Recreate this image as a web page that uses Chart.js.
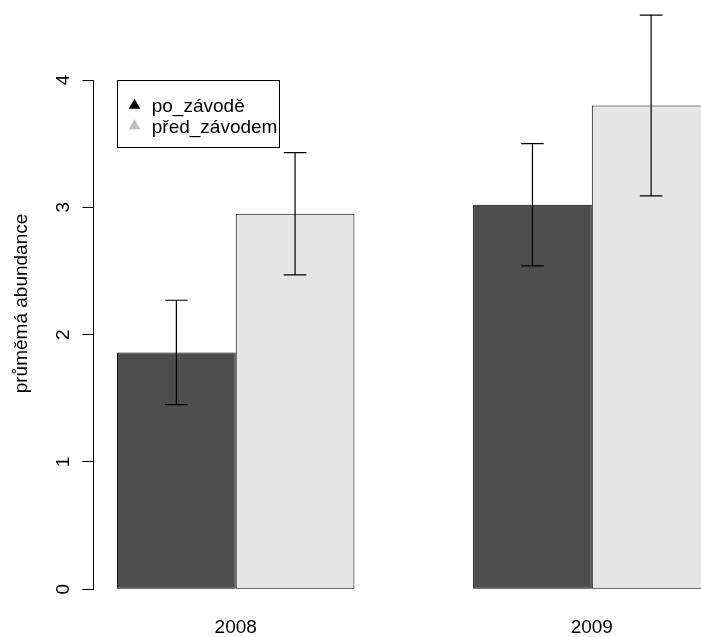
<!DOCTYPE html>
<html>
<head>
<meta charset="utf-8">
<script src="https://cdn.jsdelivr.net/npm/chart.js@4.4.1/dist/chart.umd.min.js"></script>
<style>
  html, body { margin: 0; padding: 0; background: #fff; }
  #wrap { width: 701px; height: 637px; position: relative; }
</style>
</head>
<body>
<div id="wrap"><canvas id="chart"></canvas></div>
<script>
// data
const categories = ['2008', '2009']
const seriesNames = ['po_závodě', 'před_závodem']
const poZavode = [1.86, 3.02]
const poZavodeSe = [0.41, 0.48]
const predZavodem = [2.95, 3.80]
const predZavodemSe = [0.48, 0.71]
const yTicks = [0, 1, 2, 3, 4]

const FONT = '"Liberation Sans", Arial, Helvetica, sans-serif'
const darkFill = '#4d4d4d'
const lightFill = '#e5e5e5'
const legendColors = ['#000000', '#bebebe']

// R barplot units: bars are 1 wide, groups centred at 2 and 5
const groupX = i => 2 + 3 * i
const seList = [poZavodeSe, predZavodemSe]

const errorBars = {
  id: 'errorBars',
  afterDatasetsDraw(chart) {
    const { ctx } = chart
    const y = chart.scales.y
    ctx.save()
    ctx.strokeStyle = '#000'
    ctx.lineWidth = 1.2
    chart.data.datasets.forEach((ds, i) => {
      const meta = chart.getDatasetMeta(i)
      meta.data.forEach((bar, j) => {
        const v = ds.data[j].y
        const se = seList[i][j]
        const top = y.getPixelForValue(v + se)
        const bot = y.getPixelForValue(v - se)
        ctx.beginPath()
        ctx.moveTo(bar.x, top); ctx.lineTo(bar.x, bot)
        ctx.moveTo(bar.x - 11.3, top); ctx.lineTo(bar.x + 11.3, top)
        ctx.moveTo(bar.x - 11.3, bot); ctx.lineTo(bar.x + 11.3, bot)
        ctx.stroke()
      })
    })
    ctx.restore()
  }
}

const rDecor = {
  id: 'rDecor',
  afterDraw(chart) {
    const { ctx } = chart
    const xs = chart.scales.x
    const ys = chart.scales.y
    ctx.save()
    ctx.fillStyle = '#000'
    ctx.font = '19px ' + FONT

    // rotated y tick labels
    ctx.textAlign = 'center'
    ctx.textBaseline = 'middle'
    yTicks.forEach(t => {
      ctx.save()
      ctx.translate(63.8, ys.getPixelForValue(t))
      ctx.rotate(-Math.PI / 2)
      ctx.fillText(String(t), 0, 0)
      ctx.restore()
    })

    // y axis title
    ctx.save()
    ctx.translate(22, 303.5)
    ctx.rotate(-Math.PI / 2)
    ctx.fillText('průměmá abundance', 0, 0)
    ctx.restore()

    // legend, top-left corner at (1, 4) in data units
    const lx = xs.getPixelForValue(1)
    const ly = ys.getPixelForValue(4)
    ctx.lineWidth = 1
    ctx.strokeStyle = '#000'
    ctx.strokeRect(Math.round(lx) + 0.5, Math.round(ly) + 0.5, 162, 67)
    ctx.textAlign = 'left'
    ctx.textBaseline = 'alphabetic'
    seriesNames.forEach((name, i) => {
      const base = ly + 32 + i * 20.5
      const cy = base - 8.3
      ctx.fillStyle = legendColors[i]
      ctx.beginPath()
      ctx.moveTo(lx + 17.5, cy - 5)
      ctx.lineTo(lx + 23.3, cy + 5)
      ctx.lineTo(lx + 11.7, cy + 5)
      ctx.closePath()
      ctx.fill()
      ctx.fillStyle = '#000'
      ctx.fillText(name, lx + 34.7, base)
    })
    ctx.restore()
  }
}

new Chart(document.getElementById('chart'), {
  type: 'bar',
  data: {
    datasets: [
      {
        label: seriesNames[0],
        data: poZavode.map((v, i) => ({ x: groupX(i), y: v })),
        backgroundColor: darkFill,
        borderColor: '#000',
        borderWidth: 1,
        borderSkipped: false,
        clip: false
      },
      {
        label: seriesNames[1],
        data: predZavodem.map((v, i) => ({ x: groupX(i), y: v })),
        backgroundColor: lightFill,
        borderColor: '#000',
        borderWidth: 1,
        borderSkipped: false,
        clip: false
      }
    ]
  },
  options: {
    responsive: true,
    maintainAspectRatio: false,
    animation: false,
    events: [],
    categoryPercentage: 2 / 3,
    barPercentage: 1,
    layout: { padding: { top: 80, left: 0, right: 0, bottom: 0 } },
    plugins: {
      legend: { display: false },
      tooltip: { enabled: false },
      title: { display: false }
    },
    scales: {
      x: {
        type: 'linear',
        min: 0.8,
        max: 5.92,
        offset: false,
        bounds: 'data',
        grid: { display: false, drawTicks: false },
        border: { display: false },
        afterBuildTicks: scale => { scale.ticks = categories.map((c, i) => ({ value: groupX(i) })) },
        afterFit: scale => { scale.height = 47.7 },
        ticks: {
          autoSkip: false,
          maxRotation: 0,
          padding: 27,
          color: '#000',
          font: { family: FONT, size: 19 },
          callback: value => categories[(value - 2) / 3]
        }
      },
      y: {
        min: 0,
        max: 4,
        afterBuildTicks: scale => { scale.ticks = yTicks.map(v => ({ value: v })) },
        afterFit: scale => { scale.width = 93.3 },
        ticks: { display: false },
        grid: { drawOnChartArea: false, drawTicks: true, tickLength: 11, color: '#000', lineWidth: 1 },
        border: { display: true, color: '#000', width: 1 }
      }
    }
  },
  plugins: [errorBars, rDecor]
})
</script>
</body>
</html>
